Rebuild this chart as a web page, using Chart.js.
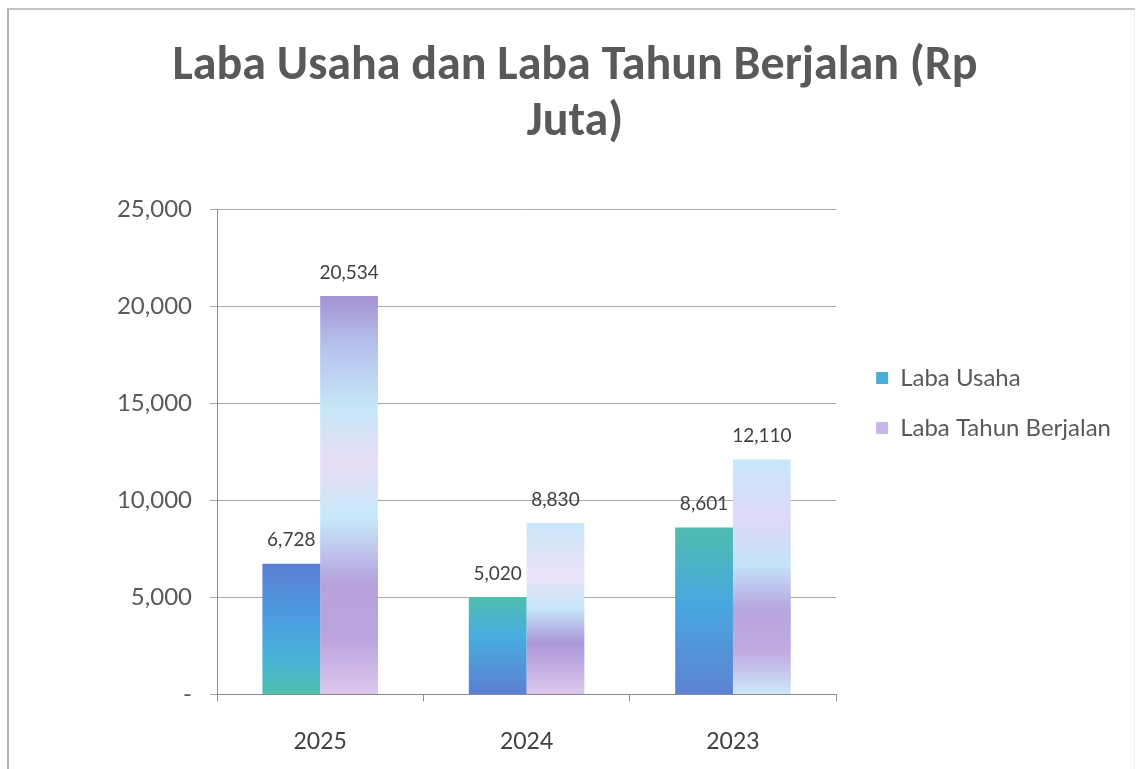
<!DOCTYPE html>
<html>
<head>
<meta charset="utf-8">
<script src="https://cdn.jsdelivr.net/npm/chart.js@4"></script>
<style>
    body { margin: 0; background: #fff; }
    #wrap { position: relative; width: 1136px; height: 769px; }
    #frame { position: absolute; left: 7px; top: 8px; right: 1px; bottom: -2px;
             border-left: 2px solid #b0b0b0; border-top: 2px solid #c4c4c4; border-right: 1px solid #eee; }
</style>
</head>
<body>
<div id="wrap">
    <div id="frame"></div>
    <canvas id="labaChart"></canvas>
</div>
<script>
const years = ["2025", "2024", "2023"]
const labaUsaha = [6728, 5020, 8601]
const labaTahunBerjalan = [20534, 8830, 12110]
const yTicks = [0, 5000, 10000, 15000, 20000, 25000]

const legendColors = ["#4aaed6", "#c7b5e8"]

// gradient stops per bar (top -> bottom), scanned Excel gradient look
const usahaStops = [
    [[0, "#5c7fd3"], [0.45, "#4a9fe0"], [0.75, "#48b4d6"], [1, "#4fc0ac"]],
    [[0, "#4fbfae"], [0.4, "#47ade0"], [1, "#5b80d2"]],
    [[0, "#4fbcae"], [0.45, "#48a8e0"], [1, "#5d82d3"]]
]
const berjalanStops = [
    [[0, "#a592d3"], [0.12, "#b5c0ec"], [0.28, "#c6e6f8"], [0.42, "#e8def6"], [0.56, "#c6e8fa"],
     [0.72, "#b6a2de"], [0.86, "#bba4de"], [1, "#dcc8ee"]],
    [[0, "#c9e6fa"], [0.3, "#ebe3f7"], [0.5, "#c6e6fa"], [0.7, "#ab97d8"], [1, "#dcc8ee"]],
    [[0, "#c8e8fa"], [0.25, "#ded8f5"], [0.45, "#c3e2f8"], [0.65, "#b7a3de"], [0.82, "#c2abe1"], [1, "#cde8f9"]]
]

function barGradient(stops, flat) {
    return function (context) {
        const chart = context.chart
        if (context.type !== "data" || !chart.chartArea) return flat
        const y = chart.scales.y
        const top = y.getPixelForValue(context.raw)
        const bottom = y.getPixelForValue(0)
        const g = chart.ctx.createLinearGradient(0, top, 0, bottom)
        stops[context.dataIndex].forEach(s => g.addColorStop(s[0], s[1]))
        return g
    }
}

const valueLabels = {
    id: "valueLabels",
    afterDatasetsDraw(chart) {
        const ctx = chart.ctx
        ctx.save()
        ctx.font = "19px Lato, sans-serif"
        ctx.fillStyle = "#404040"
        ctx.textAlign = "center"
        ctx.textBaseline = "bottom"
        chart.data.datasets.forEach((ds, i) => {
            chart.getDatasetMeta(i).data.forEach((bar, j) => {
                ctx.fillText(ds.data[j].toLocaleString("en-US"), bar.x, bar.y - 14)
            })
        })
        ctx.restore()
    }
}

const labaChart = new Chart(
    document.getElementById("labaChart"),
    {
        type: "bar",
        data: {
            labels: years,
            datasets: [{
                label: "Laba Usaha",
                data: labaUsaha,
                backgroundColor: barGradient(usahaStops, legendColors[0]),
                categoryPercentage: 0.56,
                barPercentage: 1
            }, {
                label: "Laba Tahun Berjalan",
                data: labaTahunBerjalan,
                backgroundColor: barGradient(berjalanStops, legendColors[1]),
                categoryPercentage: 0.56,
                barPercentage: 1
            }]
        },
        options: {
            responsive: true,
            maintainAspectRatio: false,
            animation: false,
            layout: { padding: { top: 39, right: 15, left: 29, bottom: -12 } },
            plugins: {
                title: {
                    display: true,
                    text: ["Laba Usaha dan Laba Tahun Berjalan (Rp", "Juta)"],
                    color: "#595959",
                    font: { family: "Carlito, Lato, sans-serif", size: 48, weight: "bold", lineHeight: 1.17 },
                    padding: { top: 0, bottom: 58 }
                },
                legend: {
                    position: "right",
                    align: "start",
                    maxWidth: 300,
                    title: { display: true, text: " ", font: { size: 20 }, padding: { top: 277, bottom: 0 } },
                    labels: {
                        color: "#595959",
                        font: { family: "Lato, sans-serif", size: 24 },
                        boxWidth: 12,
                        boxHeight: 12,
                        padding: 26,
                        generateLabels: chart => Chart.defaults.plugins.legend.labels.generateLabels(chart)
                            .map((item, i) => ({ ...item, fillStyle: legendColors[i], strokeStyle: legendColors[i], lineWidth: 0 }))
                    }
                },
                tooltip: { enabled: false }
            },
            scales: {
                x: {
                    offset: true,
                    grid: { offset: true, drawOnChartArea: false, tickLength: 7, color: "#8c8c8c" },
                    border: { color: "#8c8c8c" },
                    ticks: { color: "#404040", font: { family: "Lato, sans-serif", size: 23 }, padding: 26 }
                },
                y: {
                    min: 0,
                    max: 25000,
                    afterBuildTicks: axis => { axis.ticks = yTicks.map(v => ({ value: v })) },
                    afterFit: axis => { axis.width = 188 },
                    grid: { color: "#a8a8a8", tickLength: 7 },
                    border: { color: "#8c8c8c" },
                    ticks: {
                        color: "#595959",
                        font: { family: "Lato, sans-serif", size: 24 },
                        padding: 18,
                        callback: v => v === 0 ? "-" : v.toLocaleString("en-US")
                    }
                },
                // empty spacer between plot and legend
                gap: {
                    position: "right",
                    afterFit: axis => { axis.width = 14 },
                    grid: { display: false },
                    border: { display: false },
                    ticks: { display: false }
                }
            }
        },
        plugins: [valueLabels]
    }
)
</script>
</body>
</html>
